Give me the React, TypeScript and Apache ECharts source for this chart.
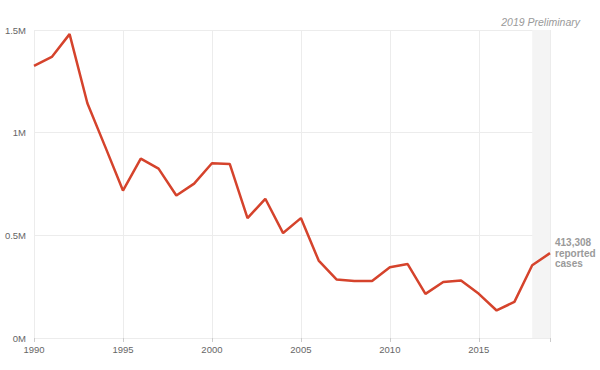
import React, { useEffect, useRef } from "react";
import * as echarts from "echarts";

const years: number[] = [
  1990, 1991, 1992, 1993, 1994, 1995, 1996, 1997, 1998, 1999,
  2000, 2001, 2002, 2003, 2004, 2005, 2006, 2007, 2008, 2009,
  2010, 2011, 2012, 2013, 2014, 2015, 2016, 2017, 2018, 2019,
];
const cases: number[] = [
  1325000, 1369000, 1480000, 1143000, 932000, 718000, 874000, 825000, 694000, 752000,
  851000, 848000, 584000, 678000, 511000, 584000, 377000, 285000, 278000, 278000,
  345000, 360000, 215000, 273000, 280000, 215000, 134000, 176000, 354000, 413308,
];
const yTicks: number[] = [0, 500000, 1000000, 1500000];
const yTickLabels: string[] = ["0M", "0.5M", "1M", "1.5M"];
const preliminaryYears: number[] = [2018, 2019];
const endLabelLines: string[] = ["413,308", "reported", "cases"];
const noteText = "2019 Preliminary";

const FONT = "'Liberation Sans', Arial, Helvetica, sans-serif";

export default function App() {
  const ref = useRef<HTMLDivElement>(null);
  useEffect(() => {
    document.body.style.margin = "0";
    if (!ref.current) return;
    const chart = echarts.init(ref.current, null, { renderer: "svg" });
    chart.setOption({
      animation: false,
      textStyle: { fontFamily: FONT },
      grid: { left: 34, right: 50, top: 30, bottom: 32, containLabel: false },
      graphic: [
        {
          type: "text",
          right: 20,
          top: 16,
          style: {
            text: noteText,
            fill: "#9a9a9a",
            font: `italic 10.5px ${FONT}`,
          },
        },
      ],
      xAxis: {
        type: "value",
        min: years[0],
        max: years[years.length - 1],
        interval: 5,
        axisLine: { show: false },
        axisTick: { show: true, length: 4, lineStyle: { color: "#cccccc" } },
        axisLabel: {
          color: "#666666",
          fontSize: 9.5,
          margin: 6,
          formatter: (v: number) => (v % 5 === 0 ? String(v) : ""),
        },
        splitLine: { show: true, lineStyle: { color: "#ececec", width: 1 } },
      },
      yAxis: {
        type: "value",
        min: yTicks[0],
        max: yTicks[yTicks.length - 1],
        interval: yTicks[1] - yTicks[0],
        axisLine: { show: false },
        axisTick: { show: false },
        axisLabel: {
          color: "#666666",
          fontSize: 9.5,
          margin: 8,
          formatter: (v: number) => {
            const i = yTicks.indexOf(v);
            return i >= 0 ? yTickLabels[i] : "";
          },
        },
        splitLine: { show: true, lineStyle: { color: "#ececec", width: 1 } },
      },
      series: [
        {
          type: "line",
          data: years.map((y, i) => [y, cases[i]]),
          showSymbol: false,
          symbol: "none",
          lineStyle: { color: "#d5432c", width: 2.5 },
          itemStyle: { color: "#d5432c" },
          endLabel: {
            show: true,
            formatter: () => endLabelLines.join("\n"),
            color: "#9a9a9a",
            fontWeight: "bold",
            fontSize: 10,
            lineHeight: 10.5,
            distance: 5,
            fontFamily: FONT,
          },
          markArea: {
            silent: true,
            itemStyle: { color: "#f4f4f4" },
            data: [[{ xAxis: preliminaryYears[0] }, { xAxis: preliminaryYears[1] }]],
          },
          z: 3,
        },
      ],
    });
    return () => chart.dispose();
  }, []);
  return <div ref={ref} style={{ width: 600, height: 370 }} />;
}
